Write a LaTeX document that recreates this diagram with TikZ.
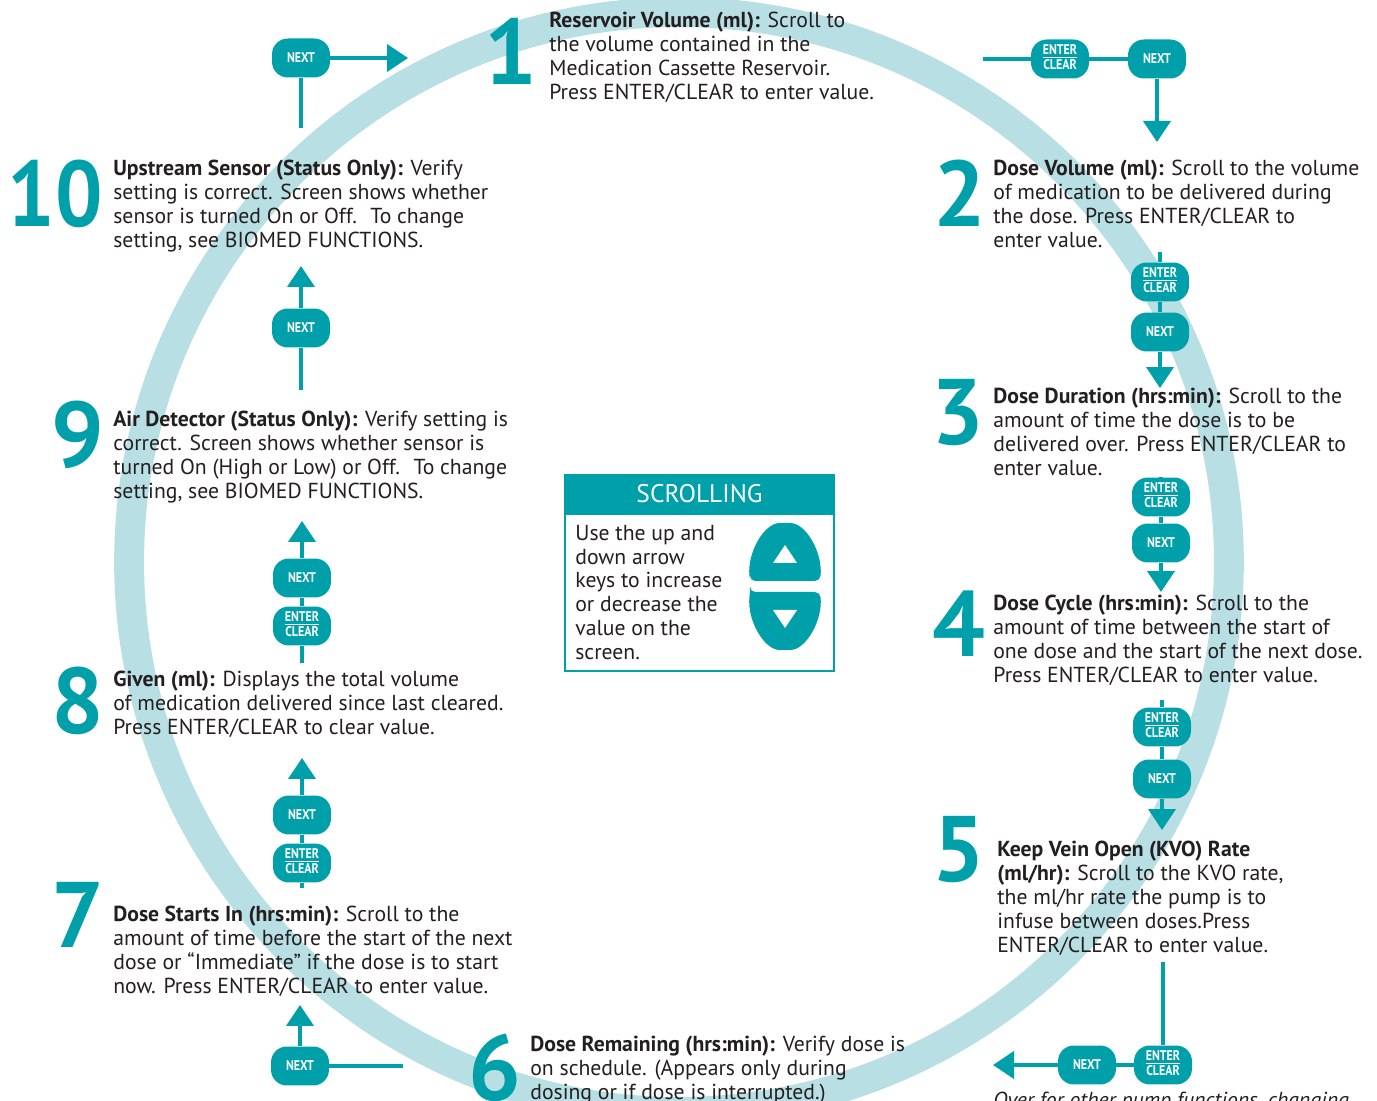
\documentclass[tikz,border=0pt]{standalone}
\usepackage{fontspec}
\setmainfont{PT Sans}
\usepackage{graphicx}
\usetikzlibrary{arrows.meta,positioning}

\definecolor{pumpteal}{RGB}{0,160,171}
\definecolor{ringblue}{RGB}{184,223,228}
\definecolor{inkgray}{RGB}{35,31,32}

\tikzset{
  stepnum/.style={font=\bfseries\fontsize{53}{53}\selectfont, text=pumpteal, inner sep=0pt},
  steptext/.style={font=\fontsize{12.35}{13.66}\selectfont, text=inkgray, align=left, anchor=base west, inner sep=0pt},
  btn/.style={fill=pumpteal, text=white, rounded corners=9pt, minimum width=1.16cm, minimum height=0.78cm,
    inner sep=0pt, font=\bfseries\fontsize{8}{8}\selectfont, align=center},
  conn/.style={draw=pumpteal, line width=2.3pt},
  flow/.style={conn, -{Triangle[length=0.42cm, width=0.54cm]}}
}
\newcommand{\nextkey}{\scalebox{0.85}[1]{NEXT}}
\newcommand{\enterkey}{\scalebox{0.85}[1]{\begin{tabular}{@{}c@{}}\underline{ENTER}\\CLEAR\end{tabular}}}

\begin{document}
\begin{tikzpicture}[x=0.02cm, y=-0.02cm]
\clip (0,0) rectangle (1377,1101);
\fill[white] (0,0) rectangle (1377,1101);
% ring behind everything
\draw[ringblue, line width=17pt] (679,562) circle [radius=11cm];

% step numbers
\node[stepnum] (num1) at (511,51) {1};
\node[stepnum] (num2) at (960,193) {2};
\node[stepnum] (num3) at (958,413) {3};
\node[stepnum] (num4) at (959,624) {4};
\node[stepnum] (num5) at (959,850) {5};
\node[stepnum] (num6) at (495,1068) {6};
\node[stepnum] (num7) at (78,915) {7};
\node[stepnum] (num8) at (78,701) {8};
\node[stepnum] (num9) at (78,435) {9};
\node[stepnum] (num10) at (55,194) {\scalebox{0.9}[1]{10}};

% step texts (placed by the baseline of their last line)
\node[steptext] (txt1) at (549,100) {\textbf{Reservoir Volume (ml):} Scroll to\\the volume contained in the\\Medication Cassette Reservoir.\\Press ENTER/CLEAR to enter value.};
\node[steptext] (txt2) at (993,248) {\textbf{Dose Volume (ml):} Scroll to the volume\\of medication to be delivered during\\the dose. Press ENTER/CLEAR to\\enter value.};
\node[steptext] (txt3) at (993,476) {\textbf{Dose Duration (hrs:min):} Scroll to the\\amount of time the dose is to be\\delivered over. Press ENTER/CLEAR to\\enter value.};
\node[steptext] (txt4) at (993,683) {\textbf{Dose Cycle (hrs:min):} Scroll to the\\amount of time between the start of\\one dose and the start of the next dose.\\Press ENTER/CLEAR to enter value.};
\node[steptext] (txt5) at (997,952) {\textbf{Keep Vein Open (KVO) Rate}\\\textbf{(ml/hr):} Scroll to the KVO rate,\\the ml/hr rate the pump is to\\infuse between doses.Press\\ENTER/CLEAR to enter value.};
\node[steptext] (txt6) at (530,1099) {\textbf{Dose Remaining (hrs:min):} Verify dose is\\on schedule. (Appears only during\\dosing or if dose is interrupted.)};
\node[steptext] (txt7) at (113,993) {\textbf{Dose Starts In (hrs:min):} Scroll to the\\amount of time before the start of the next\\dose or “Immediate” if the dose is to start\\now. Press ENTER/CLEAR to enter value.};
\node[steptext] (txt8) at (113,734) {\textbf{Given (ml):} Displays the total volume\\of medication delivered since last cleared.\\Press ENTER/CLEAR to clear value.};
\node[steptext] (txt9) at (113,499) {\textbf{Air Detector (Status Only):} Verify setting is\\correct. Screen shows whether sensor is\\turned On (High or Low) or Off.~ To change\\setting, see BIOMED FUNCTIONS.};
\node[steptext] (txt10) at (113,248) {\textbf{Upstream Sensor (Status Only):} Verify\\setting is correct. Screen shows whether\\sensor is turned On or Off.~ To change\\setting, see BIOMED FUNCTIONS.};
\node[steptext, font=\itshape\fontsize{12.35}{13.66}\selectfont] (over) at (993,1107) {Over for other pump functions, changing};

% 10 -> 1
\node[btn] (next10) at (301,58) {\nextkey};
\coordinate (from10) at (301,128);
\coordinate (to1) at (408,58);
\draw[conn] (from10) -- (next10);
\draw[flow] (next10) -- (to1);

% 1 -> 2
\coordinate (from1) at (983,59);
\node[btn] (enter1) at (1060,59) {\enterkey};
\node[btn] (next1) at (1157,59) {\nextkey};
\coordinate (to2) at (1157,142);
\draw[conn] (from1) -- (enter1) -- (next1);
\draw[flow] (next1) -- (to2);

% 2 -> 3
\coordinate (from2) at (1160,252);
\node[btn] (enter2) at (1160,282) {\enterkey};
\node[btn] (next2) at (1160,332) {\nextkey};
\coordinate (to3) at (1160,388);
\draw[conn] (from2) -- (enter2) -- (next2);
\draw[flow] (next2) -- (to3);

% 3 -> 4
\coordinate (from3) at (1161,478);
\node[btn] (enter3) at (1161,497) {\enterkey};
\node[btn] (next3) at (1161,543) {\nextkey};
\coordinate (to4) at (1161,592);
\draw[conn] (from3) -- (enter3) -- (next3);
\draw[flow] (next3) -- (to4);

% 4 -> 5
\coordinate (from4) at (1162,700);
\node[btn] (enter4) at (1162,727) {\enterkey};
\node[btn] (next4) at (1162,779) {\nextkey};
\coordinate (to5) at (1162,830);
\draw[conn] (from4) -- (enter4) -- (next4);
\draw[flow] (next4) -- (to5);

% 5 -> 6
\coordinate (from5) at (1163,962);
\node[btn] (enter5) at (1163,1065) {\enterkey};
\node[btn] (next5) at (1087,1065) {\nextkey};
\coordinate (to6) at (993,1065);
\draw[conn] (from5) -- (enter5) -- (next5);
\draw[flow] (next5) -- (to6);

% 6 -> 7
\coordinate (from6) at (403,1066);
\node[btn] (next6) at (300,1066) {\nextkey};
\coordinate (to7) at (300,1005);
\draw[conn] (from6) -- (next6);
\draw[flow] (next6) -- (to7);

% 7 -> 8
\coordinate (from7) at (302,888);
\node[btn] (enter7) at (302,863) {\enterkey};
\node[btn] (next7) at (302,815) {\nextkey};
\coordinate (to8) at (302,758);
\draw[conn] (from7) -- (enter7) -- (next7);
\draw[flow] (next7) -- (to8);

% 8 -> 9
\coordinate (from8) at (302,663);
\node[btn] (enter8) at (302,626) {\enterkey};
\node[btn] (next8) at (302,578) {\nextkey};
\coordinate (to9) at (302,521);
\draw[conn] (from8) -- (enter8) -- (next8);
\draw[flow] (next8) -- (to9);

% 9 -> 10
\coordinate (from9) at (301,390);
\node[btn] (next9) at (301,328) {\nextkey};
\coordinate (to10) at (301,266);
\draw[conn] (from9) -- (next9);
\draw[flow] (next9) -- (to10);

% scrolling box
\node[draw=pumpteal, line width=1.2pt, fill=white, minimum width=5.38cm, minimum height=3.92cm, inner sep=0pt] (scrollbox) at (699.5,573) {};
\fill[pumpteal] (scrollbox.north west) rectangle (834,515);
\node[text=white, font=\fontsize{14.5}{15}\selectfont, inner sep=0pt] (scrolltitle) at (699.5,494) {SCROLLING};
\node[steptext] (scrolltext) at (575,660) {Use the up and\\down arrow\\keys to increase\\or decrease the\\value on the\\screen.};
\fill[pumpteal, rounded corners=3] (750,581) -- (820,581) .. controls (823,553) and (806,523) .. (785,523) .. controls (764,523) and (747,553) .. (750,581) -- cycle;
\fill[pumpteal, rounded corners=3] (750,592) -- (820,592) .. controls (823,620) and (806,650) .. (785,650) .. controls (764,650) and (747,620) .. (750,592) -- cycle;
\fill[white] (773,563) -- (797,563) -- (785,545) -- cycle;
\fill[white] (773,610) -- (797,610) -- (785,628) -- cycle;
\end{tikzpicture}
\end{document}
